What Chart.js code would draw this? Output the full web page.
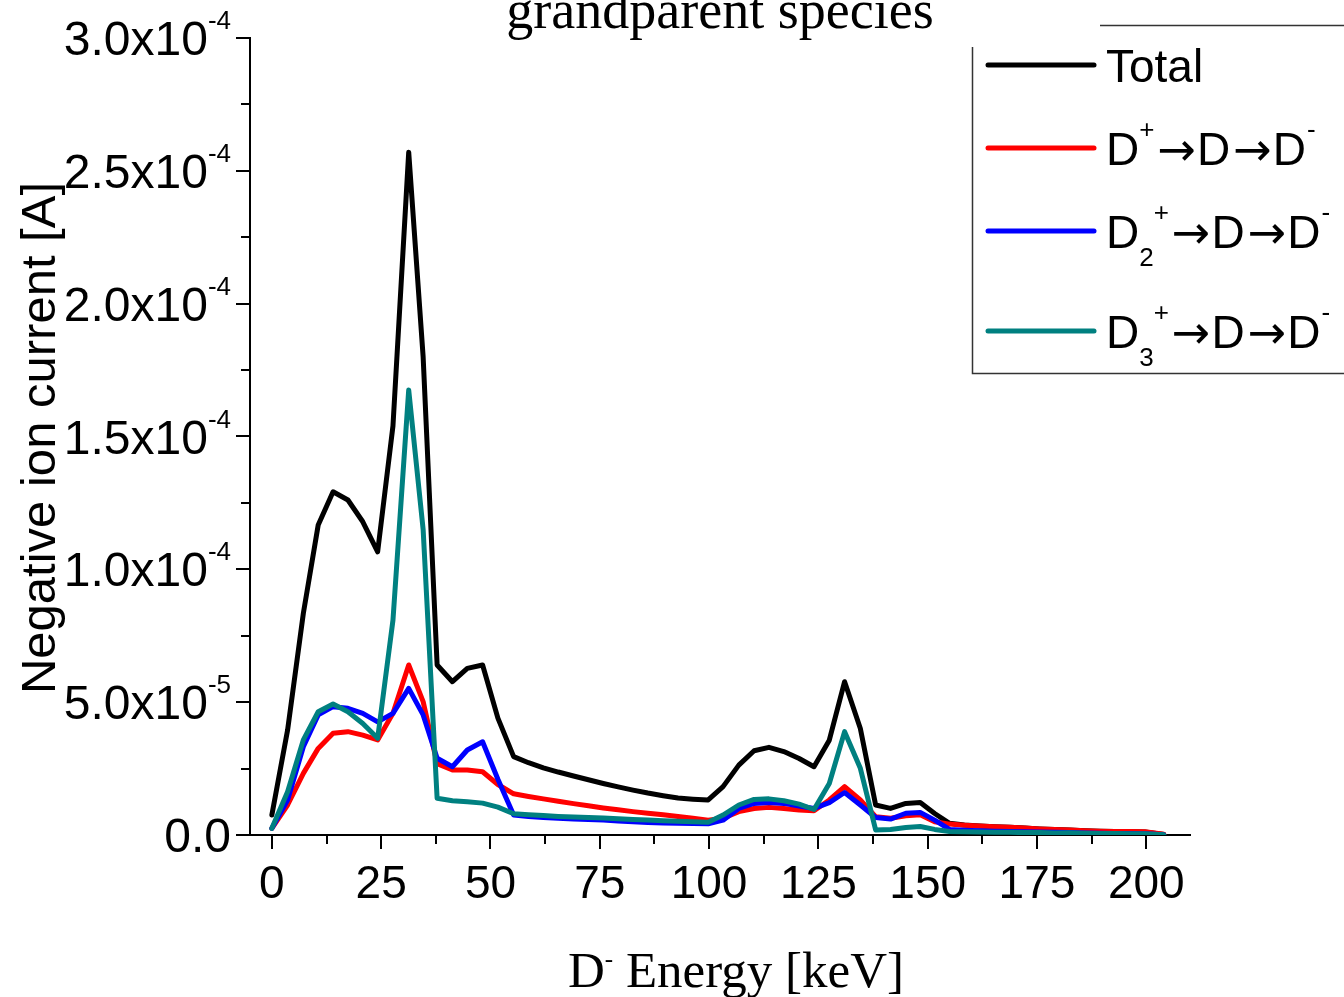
<!DOCTYPE html>
<html>
<head>
<meta charset="utf-8">
<script src="https://cdn.jsdelivr.net/npm/chart.js@4.4.1/dist/chart.umd.min.js"></script>
<style>
  html, body { margin: 0; padding: 0; background: #fff; }
  canvas { display: block; }
</style>
</head>
<body>
<canvas id="mycanvas" width="1344" height="997"></canvas>
<script>
// D- energy [keV]
var energy = [
  0, 3.6, 7.2, 10.6, 14.0, 17.4, 20.8, 24.2, 27.7, 31.3, 34.6, 37.8, 41.3, 44.7, 48.2, 51.7,
  55.3, 58.7, 62.1, 65.5, 69.0, 72.4, 75.8, 79.2, 82.6, 86.0, 89.5, 92.9, 96.3, 99.8,
  103.2, 106.8, 110.3, 113.7, 117.1, 120.6, 124.0, 127.5, 131.0, 134.6, 138.1, 141.5, 145.0, 148.3, 151.6,
  155.0, 158.4, 161.9, 165.3, 168.8, 172.2, 175.6, 179.1, 182.5, 186.0, 189.4, 192.8, 196.3, 199.7, 204.0
];

// currents in units of 1e-5 A
var total = [
  0.75, 3.95, 8.34, 11.67, 12.92, 12.61, 11.79, 10.66, 15.4, 25.7, 18.0, 6.4, 5.77, 6.27, 6.40, 4.4,
  2.95, 2.72, 2.53, 2.37, 2.22, 2.08, 1.94, 1.81, 1.69, 1.58, 1.48, 1.39, 1.35, 1.32,
  1.82, 2.63, 3.17, 3.30, 3.14, 2.88, 2.57, 3.57, 5.77, 4.01, 1.13, 1.00, 1.19, 1.22, 0.81,
  0.44, 0.38, 0.34, 0.31, 0.29, 0.26, 0.23, 0.21, 0.19, 0.16, 0.14, 0.13, 0.12, 0.11, 0.02
];
var fromD = [
  0.25, 1.13, 2.32, 3.26, 3.83, 3.89, 3.76, 3.58, 4.58, 6.40, 5.02, 2.68, 2.45, 2.45, 2.38, 1.90,
  1.55, 1.45, 1.36, 1.27, 1.18, 1.10, 1.02, 0.95, 0.88, 0.82, 0.76, 0.70, 0.63, 0.56,
  0.63, 0.88, 1.00, 1.04, 1.00, 0.94, 0.91, 1.32, 1.82, 1.32, 0.69, 0.63, 0.72, 0.76, 0.50,
  0.41, 0.37, 0.34, 0.31, 0.29, 0.26, 0.23, 0.21, 0.19, 0.16, 0.14, 0.13, 0.13, 0.12, 0.03
];
var fromD2 = [
  0.25, 1.32, 3.32, 4.52, 4.83, 4.77, 4.58, 4.26, 4.58, 5.52, 4.52, 2.89, 2.57, 3.20, 3.51, 2.10,
  0.75, 0.70, 0.66, 0.63, 0.60, 0.58, 0.56, 0.53, 0.50, 0.47, 0.45, 0.44, 0.43, 0.42,
  0.56, 1.00, 1.19, 1.22, 1.19, 1.09, 1.00, 1.22, 1.60, 1.13, 0.66, 0.60, 0.82, 0.85, 0.56,
  0.21, 0.18, 0.16, 0.14, 0.13, 0.12, 0.11, 0.10, 0.09, 0.08, 0.07, 0.06, 0.06, 0.05, 0.01
];
var fromD3 = [
  0.25, 1.63, 3.58, 4.64, 4.93, 4.64, 4.20, 3.64, 8.09, 16.75, 11.5, 1.38, 1.29, 1.25, 1.20, 1.05,
  0.80, 0.76, 0.73, 0.70, 0.68, 0.66, 0.64, 0.61, 0.58, 0.56, 0.54, 0.52, 0.50, 0.48,
  0.75, 1.13, 1.34, 1.36, 1.29, 1.16, 0.96, 1.94, 3.89, 2.51, 0.19, 0.21, 0.28, 0.32, 0.21,
  0.13, 0.12, 0.11, 0.10, 0.10, 0.09, 0.09, 0.08, 0.08, 0.07, 0.06, 0.06, 0.05, 0.05, 0.01
];

var xTicks = [0, 25, 50, 75, 100, 125, 150, 175, 200];
var yTicks = [0, 5e-5, 1e-4, 1.5e-4, 2e-4, 2.5e-4, 3e-4];

var SANS = '"Liberation Sans", Arial, sans-serif';
var SERIF = '"Liberation Serif", "Times New Roman", serif';
var ARROW = '"DejaVu Sans", sans-serif';

function points(arr) {
  return energy.map(function(e, i) { return { x: e, y: arr[i] * 1e-5 }; });
}

// draws a run of text pieces; s = 'sup' / 'sub' for small raised / lowered text, f = own font family
function richText(ctx, parts, x, y, family, size, small, up, down) {
  parts.forEach(function(p) {
    var dy = 0;
    ctx.font = (p.s ? small : size) + 'px ' + (p.f || family);
    if (p.s === 'sup') dy = -up;
    if (p.s === 'sub') dy = down;
    ctx.fillText(p.t, x, y + dy);
    x += ctx.measureText(p.t).width + (p.gap || 0);
  });
  return x;
}

function richWidth(ctx, parts, family, size, small) {
  var w = 0;
  parts.forEach(function(p) {
    ctx.font = (p.s ? small : size) + 'px ' + (p.f || family);
    w += ctx.measureText(p.t).width + (p.gap || 0);
  });
  return w;
}

function chain(sub) {
  var parts = [{ t: 'D' }];
  if (sub) parts.push({ t: sub, s: 'sub' });
  parts.push({ t: '+', s: 'sup', gap: 3 });
  parts.push({ t: '\u2192', f: ARROW, gap: 1 });
  parts.push({ t: 'D', gap: 3 });
  parts.push({ t: '\u2192', f: ARROW, gap: 1 });
  parts.push({ t: 'D', gap: 1 });
  parts.push({ t: '-', s: 'sup' });
  return parts;
}

var legendItems = [
  { color: '#000000', parts: [{ t: 'Total' }] },
  { color: '#ff0000', parts: chain('') },
  { color: '#0000ff', parts: chain('2') },
  { color: '#008080', parts: chain('3') }
];
var legendRows = [65, 148, 231, 331];

var decor = {
  id: 'decor',
  afterDraw: function(chart) {
    var ctx = chart.ctx, xs = chart.scales.x, ys = chart.scales.y, area = chart.chartArea;
    ctx.save();
    ctx.strokeStyle = '#000';
    ctx.fillStyle = '#000';
    ctx.lineWidth = 2;

    // tick marks, major and minor
    var v, p, len;
    for (v = 0; v <= 200; v += 12.5) {
      p = Math.round(xs.getPixelForValue(v));
      len = (v % 25 === 0) ? 14 : 9;
      ctx.beginPath(); ctx.moveTo(p, area.bottom); ctx.lineTo(p, area.bottom + len); ctx.stroke();
    }
    for (v = 0; v <= 3e-4 + 1e-9; v += 2.5e-5) {
      p = Math.round(ys.getPixelForValue(v));
      len = (Math.round(v / 2.5e-5) % 2 === 0) ? 14 : 9;
      ctx.beginPath(); ctx.moveTo(area.left, p); ctx.lineTo(area.left - len, p); ctx.stroke();
    }

    // y tick labels like 2.5x10^-4
    ctx.textAlign = 'left';
    ctx.textBaseline = 'alphabetic';
    ys.ticks.forEach(function(t) {
      var val = t.value, parts;
      if (val === 0) {
        parts = [{ t: '0.0' }];
      } else {
        var ex = Math.floor(Math.log10(val) + 1e-9);
        var m = (val / Math.pow(10, ex)).toFixed(1);
        parts = [{ t: m + 'x10' }, { t: String(ex), s: 'sup' }];
      }
      var w = richWidth(ctx, parts, SANS, 48, 26);
      var py = ys.getPixelForValue(val);
      richText(ctx, parts, 231 - w, py + 17, SANS, 48, 26, 26, 0);
    });

    // y axis title
    ctx.save();
    ctx.translate(55, 438);
    ctx.rotate(-Math.PI / 2);
    ctx.textAlign = 'center';
    ctx.font = '49px ' + SANS;
    ctx.fillText('Negative ion current [A]', 0, 0);
    ctx.restore();

    // title (cut at the top edge)
    ctx.textAlign = 'center';
    ctx.font = '54px ' + SERIF;
    ctx.fillText('grandparent species', 720, 28);

    // x axis title
    ctx.textAlign = 'left';
    richText(ctx, [{ t: 'D' }, { t: '-', s: 'sup' }, { t: ' Energy [keV]' }], 568, 987, SERIF, 51, 25, 20, 0);

    // legend frame
    ctx.strokeStyle = '#333';
    ctx.lineWidth = 1.5;
    ctx.beginPath();
    ctx.moveTo(972.5, 47); ctx.lineTo(972.5, 373.5); ctx.lineTo(1344, 373.5);
    ctx.moveTo(1100, 25.5); ctx.lineTo(1344, 25.5);
    ctx.stroke();

    // legend entries
    ctx.lineCap = 'round';
    ctx.lineWidth = 5;
    legendItems.forEach(function(item, i) {
      var y = legendRows[i];
      ctx.strokeStyle = item.color;
      ctx.beginPath(); ctx.moveTo(988, y); ctx.lineTo(1094, y); ctx.stroke();
      ctx.fillStyle = '#000';
      richText(ctx, item.parts, 1106, y + 16.5, SANS, 46, 26, 27, 18);
    });
    ctx.restore();
  }
};

function series(label, arr, color, order) {
  return {
    label: label,
    data: points(arr),
    borderColor: color,
    backgroundColor: color,
    borderWidth: 5,
    borderJoinStyle: 'round',
    borderCapStyle: 'round',
    pointRadius: 0,
    tension: 0,
    fill: false,
    order: order
  };
}

var ctx = document.getElementById('mycanvas');
var chart = new Chart(ctx, {
  type: 'line',
  data: {
    datasets: [
      series('Total', total, '#000000', 4),
      series('D+ -> D -> D-', fromD, '#ff0000', 3),
      series('D2+ -> D -> D-', fromD2, '#0000ff', 2),
      series('D3+ -> D -> D-', fromD3, '#008080', 1)
    ]
  },
  options: {
    responsive: false,
    animation: false,
    devicePixelRatio: 1,
    layout: { padding: { top: 38, right: 154, left: 0, bottom: 0 } },
    plugins: { legend: { display: false }, title: { display: false }, tooltip: { enabled: false } },
    scales: {
      x: {
        type: 'linear',
        min: -5,
        max: 210,
        afterBuildTicks: function(s) { s.ticks = xTicks.map(function(v) { return { value: v }; }); },
        afterFit: function(s) { s.height = 162; },
        grid: { display: false, drawTicks: false },
        border: { display: true, color: '#000', width: 2 },
        ticks: {
          color: '#000',
          padding: 23,
          maxRotation: 0,
          autoSkip: false,
          font: { family: SANS, size: 46 },
          callback: function(v) { return String(v); }
        }
      },
      y: {
        type: 'linear',
        min: 0,
        max: 3e-4,
        afterBuildTicks: function(s) { s.ticks = yTicks.map(function(v) { return { value: v }; }); },
        afterFit: function(s) { s.width = 250; },
        grid: { display: false, drawTicks: false },
        border: { display: true, color: '#000', width: 2 },
        ticks: { display: false }
      }
    }
  },
  plugins: [decor]
});
</script>
</body>
</html>
